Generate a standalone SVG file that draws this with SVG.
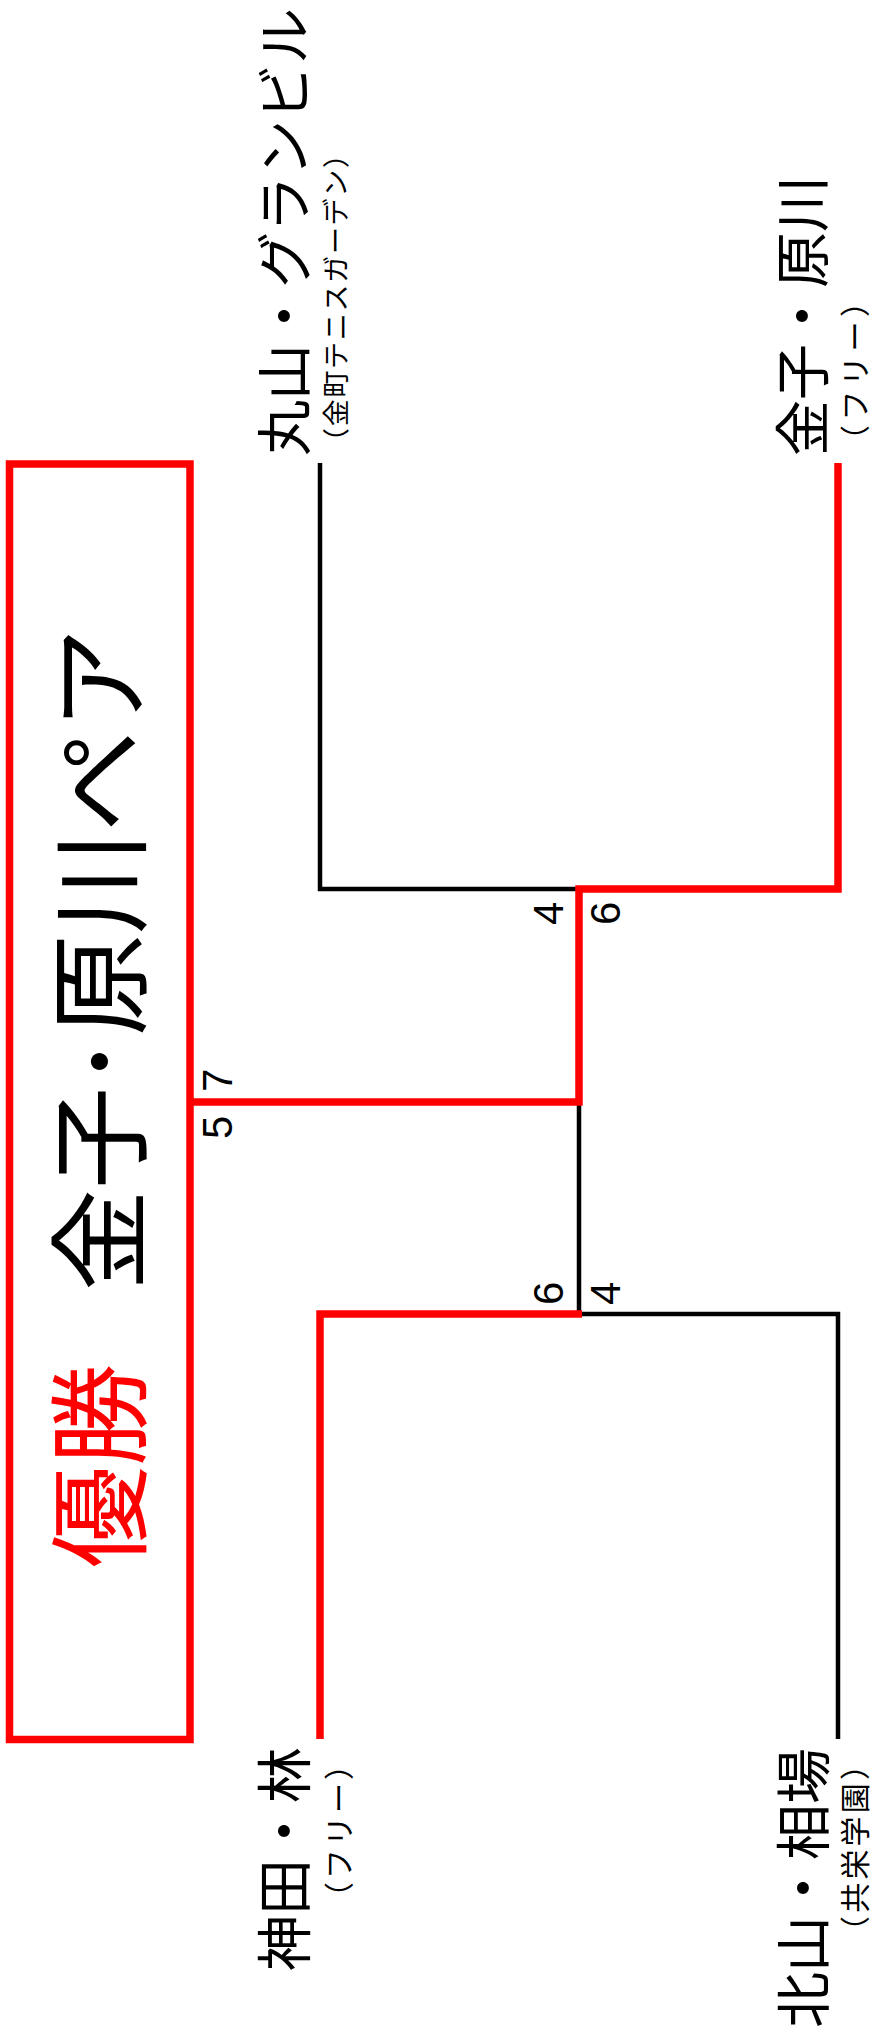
<svg xmlns="http://www.w3.org/2000/svg" width="872" height="2037" viewBox="0 0 872 2037">
<style>
.jp{font-family:"Noto Sans CJK JP","Noto Sans CJK SC",sans-serif;fill:#000}
.name{font-size:56px}
.sub{font-size:30px}
.title{font-size:102px}
.win{fill:#ff0000}
.num{font-family:"Liberation Sans",Arial,sans-serif;font-size:42px;fill:#000}
.blk{fill:none;stroke:#000;stroke-width:4.5;stroke-linejoin:miter}
.red{fill:none;stroke:#ff0000;stroke-width:7.5;stroke-linejoin:miter}
</style>
<rect width="872" height="2037" fill="#fff"/>
<g id="connectors">
<path class="blk" d="M320,463 V889 H579"/>
<path class="blk" d="M579,1102 V1314 H838 V1739"/>
<path class="red" d="M838,463 V889 H579 V1102 H190"/>
<path class="red" d="M320,1739 V1314 H582"/>
</g>
<g id="champion-box">
<rect x="9.5" y="464" width="180.5" height="1275.5" fill="none" stroke="#ff0000" stroke-width="7.5"/>
<text class="jp title win" transform="translate(138,1568) rotate(-90)">優勝</text>
<text class="jp title" transform="translate(138,1291) rotate(-90)">金子･原川ペア</text>
</g>
<g id="team-maruyama">
<text class="jp name" transform="translate(305,456) rotate(-90)">丸山・グランビル</text>
<text class="jp" font-size="27" textLength="314" lengthAdjust="spacing" transform="translate(346,455) rotate(-90)">（金町テニスガーデン）</text>
</g>
<g id="team-kaneko">
<text class="jp name" transform="translate(823,456) rotate(-90)">金子・原川</text>
<text class="jp sub" textLength="168" lengthAdjust="spacing" transform="translate(866,455) rotate(-90)">（フリー）</text>
</g>
<g id="team-kanda">
<text class="jp name" text-anchor="end" transform="translate(305,1747) rotate(-90)">神田・林</text>
<text class="jp sub" text-anchor="end" textLength="162" lengthAdjust="spacing" transform="translate(350,1750) rotate(-90)">（フリー）</text>
</g>
<g id="team-kitayama">
<text class="jp name" text-anchor="end" transform="translate(824,1748) rotate(-90)">北山・相場</text>
<text class="jp sub" text-anchor="end" textLength="196" lengthAdjust="spacing" transform="translate(866,1750) rotate(-90)">（共栄学園）</text>
</g>
<g id="scores">
<text class="num" transform="translate(563,925) rotate(-90)">4</text>
<text class="num" transform="translate(620,925) rotate(-90)">6</text>
<text class="num" transform="translate(232,1092) rotate(-90)">7</text>
<text class="num" transform="translate(232,1139) rotate(-90)">5</text>
<text class="num" transform="translate(563,1305) rotate(-90)">6</text>
<text class="num" transform="translate(620,1305) rotate(-90)">4</text>
</g>
</svg>
